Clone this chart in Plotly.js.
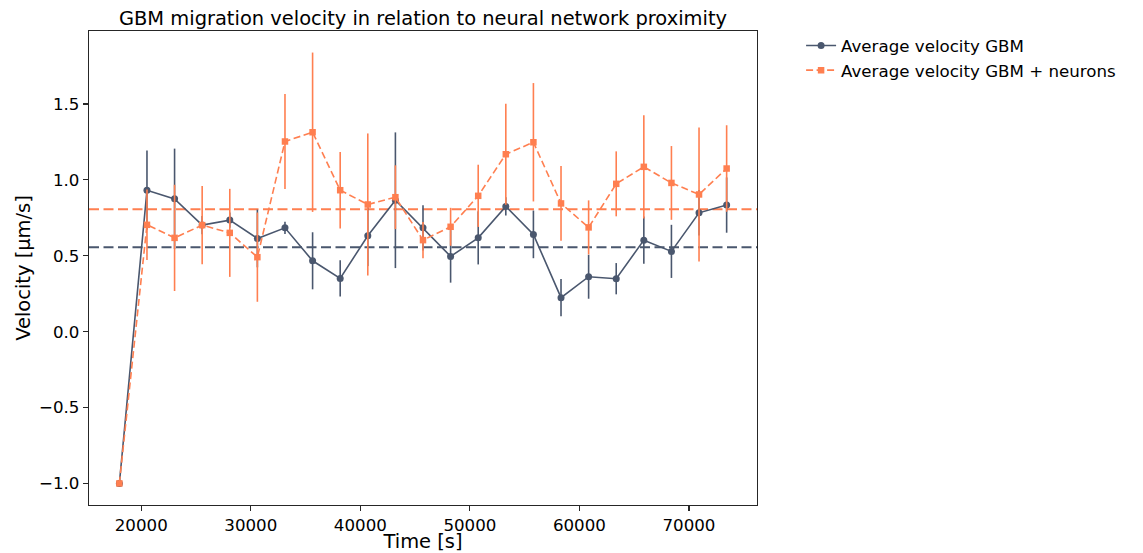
<!DOCTYPE html>
<html>
<head>
<meta charset="utf-8">
<script src="https://cdn.plot.ly/plotly-3.0.1.min.js"></script>
<style>
  html, body { margin: 0; padding: 0; background: #ffffff; }
  #chart { width: 1143px; height: 553px; }
</style>
</head>
<body>
<div id="chart"></div>
<script>
// Sampling times [s]
const timeS = [18000, 20520, 23040, 25560, 28080, 30600, 33120, 35640, 38160, 40680, 43200, 45720,
               48240, 50760, 53280, 55800, 58320, 60840, 63360, 65880, 68400, 70920, 73440];

// Average velocity of GBM cells alone [µm/s] and its error
const velGBM = [-1.0, 0.932, 0.875, 0.702, 0.735, 0.614, 0.684, 0.467, 0.351, 0.632, 0.866, 0.684,
                0.496, 0.618, 0.825, 0.641, 0.224, 0.362, 0.349, 0.603, 0.529, 0.783, 0.834];
const errGBM = [0, 0.261, 0.331, 0.06, 0.05, 0.19, 0.04, 0.188, 0.12, 0.2, 0.447, 0.149,
                0.173, 0.175, 0.06, 0.157, 0.123, 0.145, 0.103, 0.155, 0.175, 0.15, 0.182];

// Average velocity of GBM cells co-cultured with neurons [µm/s] and its error
const velNeur = [-1.0, 0.704, 0.618, 0.702, 0.651, 0.491, 1.253, 1.314, 0.932, 0.838, 0.886, 0.603,
                 0.691, 0.895, 1.169, 1.248, 0.845, 0.687, 0.974, 1.086, 0.980, 0.904, 1.075];
const errNeur = [0, 0.232, 0.35, 0.257, 0.29, 0.294, 0.313, 0.525, 0.252, 0.468, 0.21, 0.12,
                 0.125, 0.205, 0.333, 0.39, 0.246, 0.178, 0.214, 0.34, 0.243, 0.442, 0.285];

const seriesNames = ['Average velocity GBM', 'Average velocity GBM + neurons'];

const colGBM = '#4a576e';
const colNeur = '#ff7f50';
const FONT = 'DejaVu Sans, Liberation Sans, sans-serif';

const mean = arr => arr.reduce((a, b) => a + b, 0) / arr.length;

const traces = [
  {
    x: timeS, y: velGBM, name: seriesNames[0], type: 'scatter', mode: 'lines+markers',
    line: { color: colGBM, width: 1.6 },
    marker: { symbol: 'circle', size: 7, color: colGBM },
    error_y: { type: 'data', array: errGBM, visible: true, color: colGBM, thickness: 1.6, width: 0 }
  },
  {
    x: timeS, y: velNeur, name: seriesNames[1], type: 'scatter', mode: 'lines+markers',
    line: { color: colNeur, width: 1.6, dash: '7px,3.5px' },
    marker: { symbol: 'square', size: 6.5, color: colNeur },
    error_y: { type: 'data', array: errNeur, visible: true, color: colNeur, thickness: 1.6, width: 0 }
  }
];

// Horizontal dashed lines at the mean velocity of each series
const shapes = [
  { type: 'line', xref: 'paper', x0: 0, x1: 1, yref: 'y', y0: mean(velGBM), y1: mean(velGBM),
    line: { color: colGBM, width: 2, dash: '10px,4.5px' }, layer: 'below' },
  { type: 'line', xref: 'paper', x0: 0, x1: 1, yref: 'y', y0: mean(velNeur), y1: mean(velNeur),
    line: { color: colNeur, width: 2, dash: '10px,4.5px' }, layer: 'below' }
];

const layout = {
  width: 1143, height: 553,
  paper_bgcolor: '#ffffff', plot_bgcolor: '#ffffff',
  margin: { l: 89, r: 386, t: 31, b: 48, pad: 0 },
  font: { family: FONT, size: 16.67, color: '#000000' },
  title: {
    text: 'GBM migration velocity in relation to neural network proximity',
    font: { family: FONT, size: 19.44, color: '#000000' },
    x: 0.5, xref: 'paper', xanchor: 'center',
    y: 1 - 18 / 553, yref: 'container', yanchor: 'middle'
  },
  xaxis: {
    title: { text: 'Time [s]', font: { family: FONT, size: 19.44, color: '#000000' } },
    range: [15228, 76212], tickmode: 'linear', tick0: 0, dtick: 10000, tickformat: 'd',
    showgrid: false, zeroline: false, showline: true, mirror: true, linecolor: '#262626', linewidth: 1.2,
    ticks: 'outside', ticklen: 5, tickwidth: 1.2, tickcolor: '#262626',
    tickfont: { family: FONT, size: 16.67, color: '#000000' }
  },
  yaxis: {
    title: { text: 'Velocity [μm/s]', standoff: 3, font: { family: FONT, size: 19.44, color: '#000000' } },
    range: [-1.142, 1.981], tickmode: 'linear', tick0: 0, dtick: 0.5, tickformat: '.1f',
    showgrid: false, zeroline: false, showline: true, mirror: true, linecolor: '#262626', linewidth: 1.2,
    ticks: 'outside', ticklen: 5, tickwidth: 1.2, tickcolor: '#262626',
    tickfont: { family: FONT, size: 16.67, color: '#000000' }
  },
  legend: {
    x: 1.066, xanchor: 'left', y: 1.006, yanchor: 'top',
    bgcolor: 'rgba(255,255,255,0)', borderwidth: 0,
    font: { family: FONT, size: 16.67, color: '#000000' }
  },
  shapes: shapes,
  showlegend: true
};

Plotly.newPlot('chart', traces, layout, { displayModeBar: false, staticPlot: true });
</script>
</body>
</html>
